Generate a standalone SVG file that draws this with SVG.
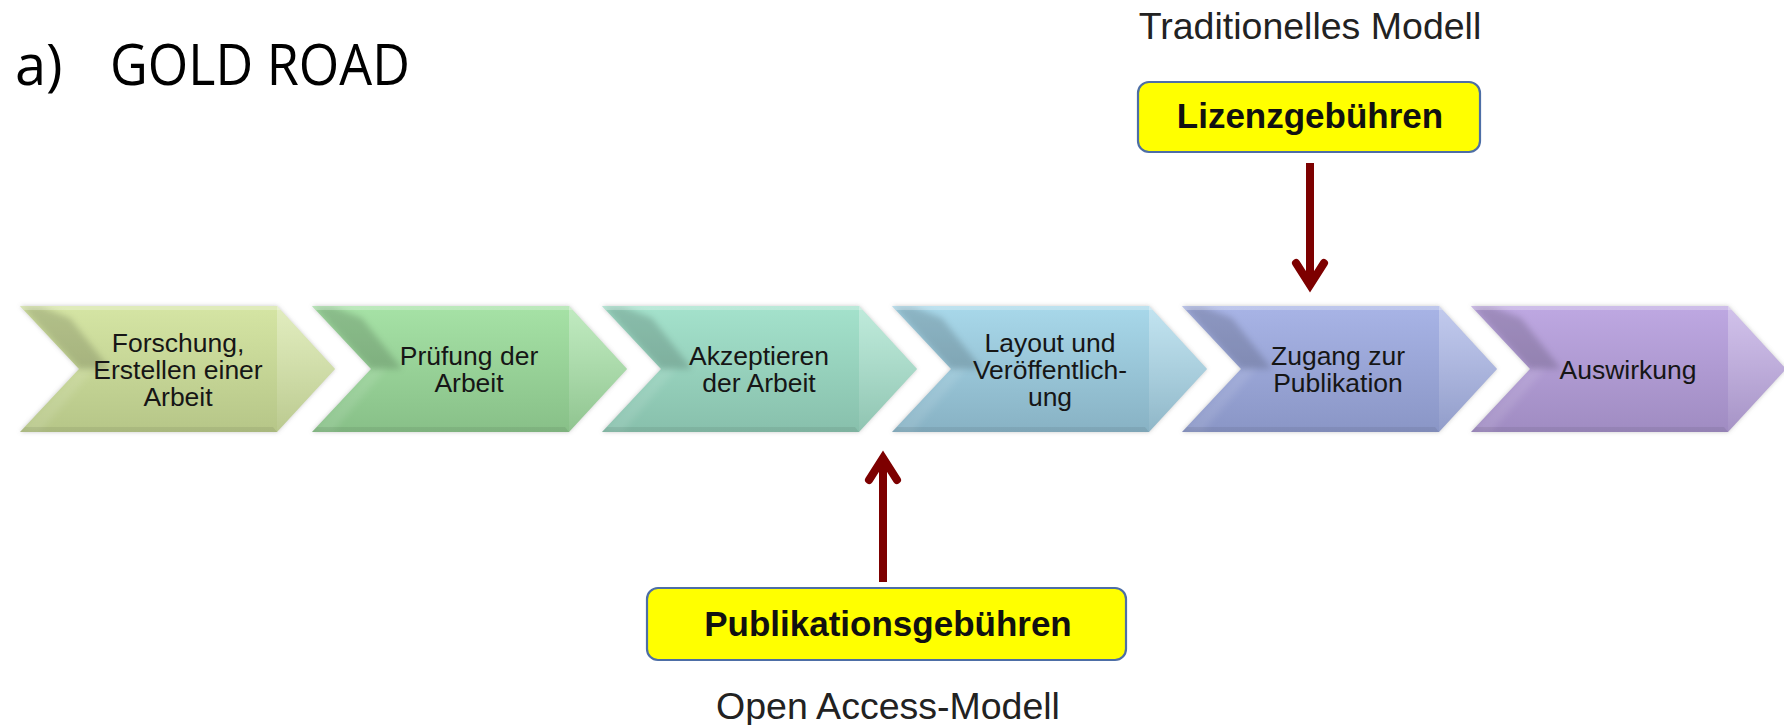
<svg xmlns="http://www.w3.org/2000/svg" xmlns:xlink="http://www.w3.org/1999/xlink" width="1784" height="725" viewBox="0 0 1784 725">
<style>
.ct{font-family:"Liberation Sans",Arial,sans-serif;font-size:26.5px;fill:#161616;text-anchor:middle}
.lab{font-family:"Liberation Sans",Arial,sans-serif;font-size:37.5px;fill:#222;text-anchor:middle}
.bt{font-family:"Liberation Sans",Arial,sans-serif;font-size:35px;font-weight:bold;fill:#111;text-anchor:middle}
.box{fill:#ffff00;stroke:#4d6ea6;stroke-width:2.2}
.title{font-family:"Open Sans","Noto Sans",sans-serif;font-size:56px;fill:#000}
.arr{fill:none;stroke:#7d0000;stroke-width:8;marker-end:url(#ah)}
</style>
<defs>
<filter id="sh" x="-5%" y="-10%" width="110%" height="120%">
<feDropShadow dx="0" dy="0" stdDeviation="2" flood-color="#888" flood-opacity="0.45"/>
</filter>
<filter id="soft" x="-20%" y="-20%" width="140%" height="140%">
<feGaussianBlur stdDeviation="3"/>
</filter>
<clipPath id="cc"><polygon points="0,306 257,306 315,369 257,432 0,432 59,369"/></clipPath>
<marker id="ah" markerUnits="userSpaceOnUse" orient="auto" refX="0" refY="0" markerWidth="40" markerHeight="40" overflow="visible">
<path d="M-22,-14 L0,0 L-22,14" fill="none" stroke="#7d0000" stroke-width="8" stroke-linecap="round" stroke-linejoin="miter"/>
</marker>
<polygon id="chev" points="0,306 257,306 315,369 257,432 0,432 59,369"/>
<linearGradient id="tipG" x1="0" y1="0" x2="0" y2="1">
<stop offset="0" stop-color="#fff" stop-opacity="0.3"/>
<stop offset="0.5" stop-color="#fff" stop-opacity="0.18"/>
<stop offset="1" stop-color="#fff" stop-opacity="0.06"/>
</linearGradient>
<g id="bevel">
<g clip-path="url(#cc)">
<polygon points="0,306 59,369 90,369 50,318 20,306" fill="#000" fill-opacity="0.16" filter="url(#soft)"/>
<polygon points="0,432 59,369 74,369 20,432" fill="#fff" fill-opacity="0.1" filter="url(#soft)"/>
</g>
<polygon points="257,306 315,369 257,432" fill="url(#tipG)"/>
<polygon points="0,306 257,306 261,310 4,310" fill="#fff" fill-opacity="0.25"/>
<polygon points="0,432 257,432 253,427 5,427" fill="#000" fill-opacity="0.07"/>
</g>
<linearGradient id="g1" x1="0" y1="0" x2="0" y2="1"><stop offset="0" stop-color="#d5e5a4"/><stop offset="1" stop-color="#b6c688"/></linearGradient>
<linearGradient id="g2" x1="0" y1="0" x2="0" y2="1"><stop offset="0" stop-color="#a6e2a6"/><stop offset="1" stop-color="#88c088"/></linearGradient>
<linearGradient id="g3" x1="0" y1="0" x2="0" y2="1"><stop offset="0" stop-color="#a4e2cc"/><stop offset="1" stop-color="#88c0ac"/></linearGradient>
<linearGradient id="g4" x1="0" y1="0" x2="0" y2="1"><stop offset="0" stop-color="#a8d8ea"/><stop offset="1" stop-color="#88b2c4"/></linearGradient>
<linearGradient id="g5" x1="0" y1="0" x2="0" y2="1"><stop offset="0" stop-color="#a8b4e6"/><stop offset="1" stop-color="#8a96c6"/></linearGradient>
<linearGradient id="g6" x1="0" y1="0" x2="0" y2="1"><stop offset="0" stop-color="#bea8e2"/><stop offset="1" stop-color="#a08cc2"/></linearGradient>
</defs>
<rect width="1784" height="725" fill="#fff"/>

<g id="title">
<text class="title" x="15" y="85">a)</text>
<text class="title" x="110" y="85" textLength="300" lengthAdjust="spacingAndGlyphs">GOLD ROAD</text>
</g>

<g id="step1">
<use href="#chev" x="20" fill="url(#g1)" filter="url(#sh)"/>
<use href="#bevel" x="20"/>
<text class="ct" x="178" y="352">Forschung,</text>
<text class="ct" x="178" y="379">Erstellen einer</text>
<text class="ct" x="178" y="406">Arbeit</text>
</g>
<g id="step2">
<use href="#chev" x="312" fill="url(#g2)" filter="url(#sh)"/>
<use href="#bevel" x="312"/>
<text class="ct" x="469" y="365">Prüfung der</text>
<text class="ct" x="469" y="392">Arbeit</text>
</g>
<g id="step3">
<use href="#chev" x="602" fill="url(#g3)" filter="url(#sh)"/>
<use href="#bevel" x="602"/>
<text class="ct" x="759" y="365">Akzeptieren</text>
<text class="ct" x="759" y="392">der Arbeit</text>
</g>
<g id="step4">
<use href="#chev" x="892" fill="url(#g4)" filter="url(#sh)"/>
<use href="#bevel" x="892"/>
<text class="ct" x="1050" y="352">Layout und</text>
<text class="ct" x="1050" y="379">Veröffentlich-</text>
<text class="ct" x="1050" y="406">ung</text>
</g>
<g id="step5">
<use href="#chev" x="1182" fill="url(#g5)" filter="url(#sh)"/>
<use href="#bevel" x="1182"/>
<text class="ct" x="1338" y="365">Zugang zur</text>
<text class="ct" x="1338" y="392">Publikation</text>
</g>
<g id="step6">
<use href="#chev" x="1471" fill="url(#g6)" filter="url(#sh)"/>
<use href="#bevel" x="1471"/>
<text class="ct" x="1628" y="379">Auswirkung</text>
</g>

<g id="traditionell">
<text class="lab" x="1310" y="39">Traditionelles Modell</text>
</g>
<g id="lizenz">
<rect class="box" x="1138" y="82" width="342" height="70" rx="11"/>
<text class="bt" x="1310" y="128">Lizenzgebühren</text>
</g>
<g id="publikation">
<rect class="box" x="647" y="588" width="479" height="72" rx="11"/>
<text class="bt" x="888" y="636">Publikationsgebühren</text>
</g>
<g id="openaccess">
<text class="lab" x="888" y="719">Open Access-Modell</text>
</g>

<g id="connectors">
<path class="arr" d="M1310,163 L1310,285"/>
<path class="arr" d="M883,582 L883,458"/>
</g>
</svg>
